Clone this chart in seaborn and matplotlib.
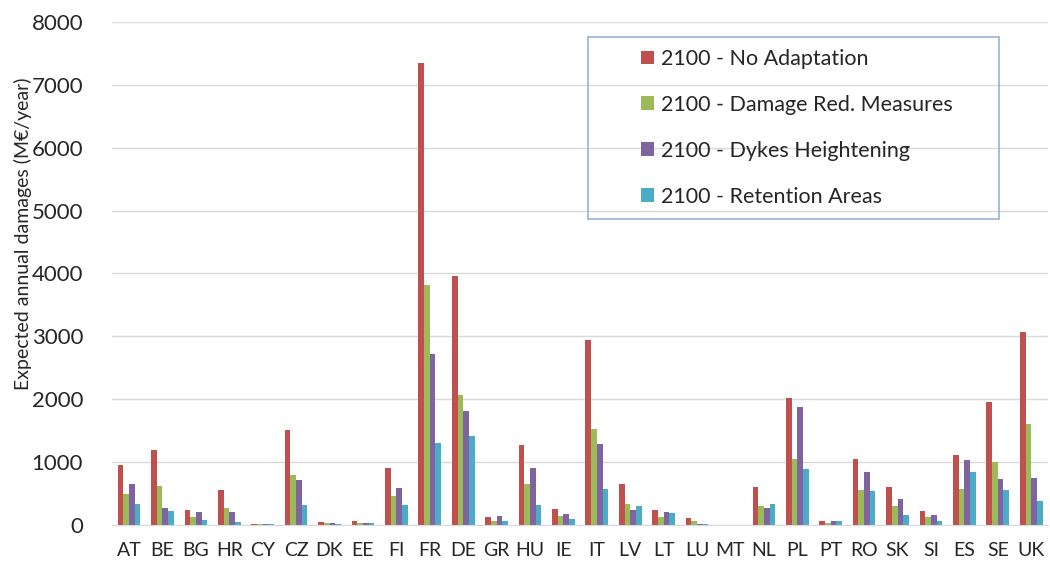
import pandas as pd
import matplotlib
matplotlib.use("Agg")
import matplotlib.pyplot as plt
from matplotlib.patches import Rectangle
import seaborn as sns

countries = ["AT", "BE", "BG", "HR", "CY", "CZ", "DK", "EE", "FI", "FR", "DE", "GR", "HU", "IE",
             "IT", "LV", "LT", "LU", "MT", "NL", "PL", "PT", "RO", "SK", "SI", "ES", "SE", "UK"]

no_adaptation = [951, 1196, 245, 553, 15, 1515, 48, 64, 909, 7340, 3965, 122, 1270, 260,
                 2935, 659, 245, 106, 0, 601, 2020, 58, 1053, 601, 229, 1116, 1960, 3075]
damage_red = [494, 627, 122, 276, 15, 797, 32, 32, 468, 3810, 2068, 58, 654, 138,
              1531, 335, 122, 58, 0, 303, 1053, 32, 553, 303, 122, 579, 1005, 1611]
dykes = [649, 276, 202, 202, 15, 723, 32, 32, 585, 2720, 1818, 138, 904, 170,
         1286, 245, 202, 16, 0, 276, 1882, 58, 840, 415, 154, 1042, 734, 750]
retention = [335, 218, 80, 48, 15, 319, 16, 32, 319, 1302, 1409, 58, 319, 90,
             569, 303, 186, 16, 0, 335, 893, 58, 537, 154, 58, 845, 553, 383]

series_names = ["2100 - No Adaptation", "2100 - Damage Red. Measures",
                "2100 - Dykes Heightening", "2100 - Retention Areas"]
colors = ["#C0504D", "#9BBB59", "#8064A2", "#4BACC6"]

frames = []
for name, vals in zip(series_names, [no_adaptation, damage_red, dykes, retention]):
    frames.append(pd.DataFrame({"country": countries, "value": vals, "scenario": name}))
df = pd.concat(frames, ignore_index=True)

sns.set_style("white")
plt.rcParams["font.family"] = ["Lato", "DejaVu Sans"]

fig = plt.figure(figsize=(10.5, 5.61), dpi=100)
ax = fig.add_axes([0.107, 0.064, 0.891, 0.897])

sns.barplot(data=df, x="country", y="value", hue="scenario", palette=colors,
            width=0.68, saturation=1, ax=ax, linewidth=0, errorbar=None)

ax.set_ylim(0, 8000)
ax.set_yticks(range(0, 8001, 1000))
ax.set_xlim(-0.5, len(countries) - 0.5)
ax.yaxis.grid(True, color="#D9D9D9", linewidth=1)
ax.set_axisbelow(True)
for side in ["left", "right", "top"]:
    ax.spines[side].set_visible(False)
ax.spines["bottom"].set_color("#D9D9D9")
ax.tick_params(axis="both", length=0, colors="#262626")
ax.tick_params(axis="x", pad=12, labelsize=14)
ax.tick_params(axis="y", pad=21, labelsize=16)
ax.set_xlabel("")
ax.set_ylabel("Expected annual damages (M\u20ac/year)", fontsize=14, color="#262626", va="center")
ax.yaxis.set_label_coords(-0.096, 0.579)

# legend without its own frame; the frame is drawn as a separate box like the original
leg = ax.legend(loc="upper left", bbox_to_anchor=(641 / 1050, 1 - 49 / 561),
                bbox_transform=fig.transFigure, fontsize=15.5, frameon=False,
                borderpad=0, borderaxespad=0, labelspacing=1.2,
                handlelength=0.6, handleheight=0.6, handletextpad=0.35)
for t in leg.get_texts():
    t.set_color("#262626")

fig.add_artist(Rectangle((588 / 1050, 1 - 219 / 561), 411 / 1050, 182 / 561,
                         transform=fig.transFigure, fill=False,
                         edgecolor="#95B3D7", linewidth=1.2, zorder=5))

fig.savefig("out.png", dpi=100)
